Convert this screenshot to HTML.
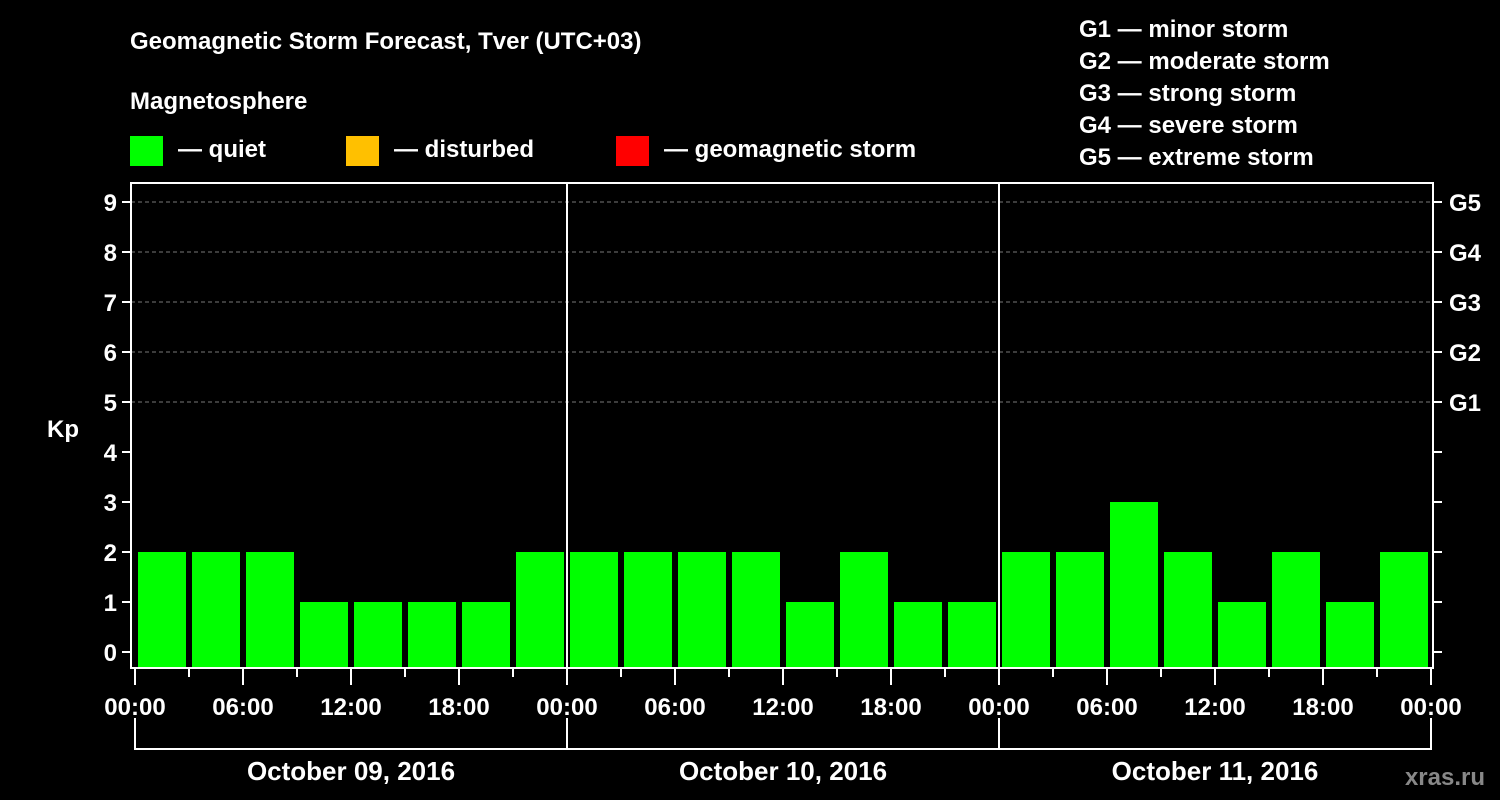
<!DOCTYPE html>
<html><head><meta charset="utf-8"><style>
html,body{margin:0;padding:0;background:#000;}
svg{display:block;font-family:"Liberation Sans",Arial,sans-serif;font-weight:bold;}
</style></head><body>
<svg id="chart" width="1500" height="800" viewBox="0 0 1500 800">
<text x="130" y="49" fill="#fff" font-size="24">Geomagnetic Storm Forecast, Tver (UTC+03)</text>
<text x="130" y="109" fill="#fff" font-size="24">Magnetosphere</text>
<g><rect x="130" y="136" width="33" height="30" fill="#00ff00"/><text x="178" y="157" fill="#fff" font-size="24">— quiet</text></g>
<g><rect x="346" y="136" width="33" height="30" fill="#ffc000"/><text x="394" y="157" fill="#fff" font-size="24">— disturbed</text></g>
<g><rect x="616" y="136" width="33" height="30" fill="#ff0000"/><text x="664" y="157" fill="#fff" font-size="24">— geomagnetic storm</text></g>
<g fill="#fff" font-size="24">
<text x="1079" y="37">G1 — minor storm</text>
<text x="1079" y="69">G2 — moderate storm</text>
<text x="1079" y="101">G3 — strong storm</text>
<text x="1079" y="133">G4 — severe storm</text>
<text x="1079" y="165">G5 — extreme storm</text>
</g>
<text x="63" y="437" fill="#fff" font-size="24" text-anchor="middle">Kp</text>
<text x="1485" y="785" fill="#888" font-size="24" text-anchor="end">xras.ru</text>
<g id="plot"></g>
</svg>
<script>
const kpValues = [2,2,2,1,1,1,1,2, 2,2,2,2,1,2,1,1, 2,2,3,2,1,2,1,2];
const dayLabels = ["October 09, 2016","October 10, 2016","October 11, 2016"];
const hourLabels = ["00:00","06:00","12:00","18:00"];
const yTicks = [0,1,2,3,4,5,6,7,8,9];
const gLabels = ["G1","G2","G3","G4","G5"];
const gLevels = [5,6,7,8,9];

const NS="http://www.w3.org/2000/svg";
const g=document.getElementById('plot');
const L=131,R=1433,T=183,B=668;
const x0=135, slotW=54;
function xScale(i){return x0+i*slotW;}
function yScale(v){return 652-v*50;}
function mk(tag,attrs){const e=document.createElementNS(NS,tag);for(const k in attrs)e.setAttribute(k,attrs[k]);g.appendChild(e);return e;}
// grid
gLevels.forEach(v=>{
 const l=mk('line',{x1:L,x2:R,y1:yScale(v),y2:yScale(v),stroke:'#777','stroke-dasharray':'4,3','stroke-width':1});
 
 
});
// bars
kpValues.forEach((v,i)=>{
 const c=v>=5?'#ff0000':(v>=4?'#ffc000':'#00ff00');
 const r=mk('rect',{x:xScale(i)+3,y:yScale(v),width:48,height:B-yScale(v),fill:c});
 
 
});
// axes frame
const fr=mk('rect',{x:L,y:T,width:R-L,height:B-T,fill:'none',stroke:'#fff','stroke-width':2});


// day separators
for(let d=1;d<dayLabels.length;d++){
 const s=mk('line',{x1:xScale(d*8),x2:xScale(d*8),y1:T,y2:B,stroke:'#fff','stroke-width':2});
 
 
}
// y ticks
yTicks.forEach(v=>{
 const y=yScale(v);
 mk('line',{x1:122,x2:L,y1:y,y2:y,stroke:'#fff','stroke-width':2});
 mk('line',{x1:R,x2:1442,y1:y,y2:y,stroke:'#fff','stroke-width':2});
 const t=mk('text',{x:117,y:y+9,fill:'#fff','font-size':24,'text-anchor':'end'});
 t.textContent=v;
 
 
});
gLevels.forEach((v,i)=>{
 const t=mk('text',{x:1449,y:yScale(v)+9,fill:'#fff','font-size':24});
 t.textContent=gLabels[i];
 
 
});
// x ticks
for(let i=0;i<=kpValues.length;i++){
 const x=xScale(i);
 const major=i%2===0;
 mk('line',{x1:x,x2:x,y1:B,y2:major?685:677,stroke:'#fff','stroke-width':2});
 if(major){
  const t=mk('text',{x:x,y:715,fill:'#fff','font-size':24,'text-anchor':'middle'});
  t.textContent=hourLabels[(i/2)%4];
  
  
 }
}
// day brackets
dayLabels.forEach((d,k)=>{
 const a=xScale(k*8),b=xScale(k*8+8);
 mk('polyline',{points:`${a},718 ${a},749 ${b},749 ${b},718`,fill:'none',stroke:'#fff','stroke-width':2});
 const t=mk('text',{x:(a+b)/2,y:780,fill:'#fff','font-size':26,'text-anchor':'middle'});
 t.textContent=d;
 
 
});
</script>
</body></html>
